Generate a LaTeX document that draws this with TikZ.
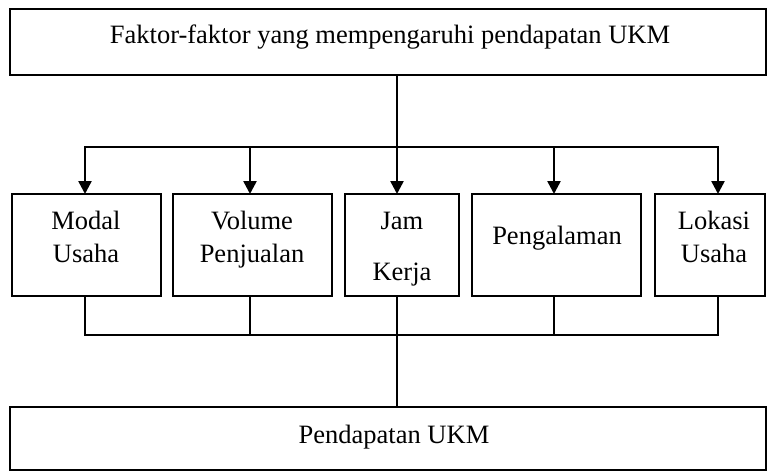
\documentclass[tikz,border=0pt]{standalone}
\usepackage{fontspec}
\setmainfont{Liberation Serif}
\usetikzlibrary{arrows.meta}
\begin{document}
\begin{tikzpicture}[x=1pt,y=-1pt,
  box/.style={draw, line width=2.5pt, inner sep=0pt, outer sep=0pt, anchor=north west},
  txt/.style={anchor=base, inner sep=0pt, font=\fontsize{26.5}{30}\selectfont},
  conn/.style={line width=2.5pt, line cap=rect},
  arr/.style={line width=2.5pt, -{Triangle[width=13pt,length=13pt]}}]
\useasboundingbox (0,0) rectangle (768,474);
% boxes
\node[box, minimum width=756pt, minimum height=66pt] (top) at (10,9) {};
\node[box, minimum width=149pt, minimum height=102pt] (modal) at (12,194) {};
\node[box, minimum width=159pt, minimum height=102pt] (volume) at (173,194) {};
\node[box, minimum width=114pt, minimum height=102pt] (jam) at (345,194) {};
\node[box, minimum width=169pt, minimum height=102pt] (peng) at (472,194) {};
\node[box, minimum width=110pt, minimum height=102pt] (lokasi) at (655,194) {};
\node[box, minimum width=756pt, minimum height=63pt] (bottom) at (10,407) {};
% texts
\node[txt] (ttop) at (390,43) {Faktor-faktor yang mempengaruhi pendapatan UKM};
\node[txt] (tm1) at (86,229) {Modal};
\node[txt] (tm2) at (86,262) {Usaha};
\node[txt] (tv1) at (252,229) {Volume};
\node[txt] (tv2) at (252,262) {Penjualan};
\node[txt] (tj1) at (402,229) {Jam};
\node[txt] (tj2) at (402,280) {Kerja};
\node[txt] (tp1) at (557,244) {Pengalaman};
\node[txt] (tl1) at (714,229) {Lokasi};
\node[txt] (tl2) at (714,262) {Usaha};
\node[txt] (tb) at (394,443) {Pendapatan UKM};
% junction coordinates
\coordinate (c1) at (85,147);
\coordinate (c2) at (250,147);
\coordinate (c3) at (397,147);
\coordinate (c4) at (554,147);
\coordinate (c5) at (718,147);
\coordinate (d1) at (85,335);
\coordinate (d2) at (250,335);
\coordinate (d3) at (397,335);
\coordinate (d4) at (554,335);
\coordinate (d5) at (718,335);
% top connectors
\draw[conn] (top.south -| c3) -- (c3);
\draw[conn] (c1) -- (c5);
\draw[arr] (c1) -- (c1 |- modal.north);
\draw[arr] (c2) -- (c2 |- volume.north);
\draw[arr] (c3) -- (c3 |- jam.north);
\draw[arr] (c4) -- (c4 |- peng.north);
\draw[arr] (c5) -- (c5 |- lokasi.north);
% bottom connectors
\draw[conn] (d1) -- (d5);
\draw[conn] (modal.south -| d1) -- (d1);
\draw[conn] (volume.south -| d2) -- (d2);
\draw[conn] (jam.south -| d3) -- (d3);
\draw[conn] (peng.south -| d4) -- (d4);
\draw[conn] (lokasi.south -| d5) -- (d5);
\draw[conn] (d3) -- (bottom.north -| d3);
\end{tikzpicture}
\end{document}
